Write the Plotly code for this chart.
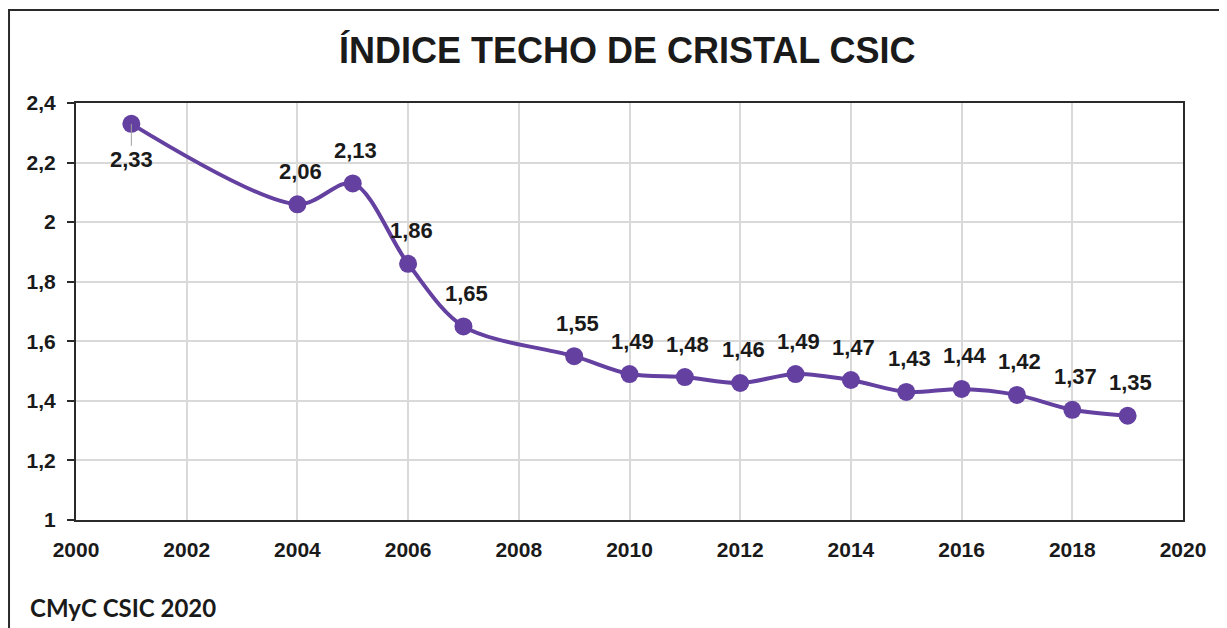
import plotly.graph_objects as go

years = [2001, 2004, 2005, 2006, 2007, 2009, 2010, 2011, 2012, 2013, 2014, 2015, 2016, 2017, 2018, 2019]
values = [2.33, 2.06, 2.13, 1.86, 1.65, 1.55, 1.49, 1.48, 1.46, 1.49, 1.47, 1.43, 1.44, 1.42, 1.37, 1.35]
labels = [f"{v:.2f}".replace(".", ",") for v in values]
title_text = "ÍNDICE TECHO DE CRISTAL CSIC"
source_text = "CMyC CSIC 2020"

color = "#6440A0"
fig = go.Figure()
fig.add_trace(go.Scatter(
    x=years, y=values, mode="lines+markers",
    line=dict(color=color, width=4, shape="spline", smoothing=0.9),
    marker=dict(color=color, size=18),
    hoverinfo="x+y", showlegend=False,
))

for i, (x, y, t) in enumerate(zip(years, values, labels)):
    if i == 0:
        fig.add_annotation(x=x, y=y, text=f"<b>{t}</b>", showarrow=True, arrowhead=0,
                           arrowcolor="#a0a0a0", arrowwidth=1, ax=0, ay=36, standoff=0,
                           font=dict(family="Liberation Sans, Arial", size=22, color="#1a1a1a"))
    else:
        fig.add_annotation(x=x, y=y, text=f"<b>{t}</b>", showarrow=False, yshift=33, xshift=3,
                           font=dict(family="Liberation Sans, Arial", size=22, color="#1a1a1a"))

# outer frame
fig.add_shape(type="rect", xref="paper", yref="paper", x0=-0.0605, x1=1.2, y0=-0.6, y1=1.223,
              line=dict(color="#2a2a2a", width=2), fillcolor="rgba(0,0,0,0)", layer="below")

fig.add_annotation(xref="paper", yref="paper", x=-0.043, y=-0.209, xanchor="left", yanchor="middle",
                   text=f"<b>{source_text}</b>", showarrow=False,
                   font=dict(family="Lato, Open Sans, sans-serif", size=24, color="#1a1a1a"))

fig.update_layout(
    width=1219, height=620,
    margin=dict(l=68, r=44, t=95, b=108),
    paper_bgcolor="white", plot_bgcolor="white",
    separators=",.",
    title=dict(text=f"<b>{title_text}</b>", x=0.508, xanchor="center", y=0.932, yanchor="middle",
               font=dict(family="Liberation Sans, Arial", size=36, color="#1a1a1a")),
    xaxis=dict(range=[2000, 2020], dtick=2, tick0=2000, tickformat="d",
               showgrid=True, gridcolor="#d9d9d9", gridwidth=1.5,
               showline=True, linecolor="#2a2a2a", linewidth=2, mirror=True,
               ticks="", ticklen=0, ticklabelstandoff=10,
               tickfont=dict(family="Liberation Sans, Arial", size=21, color="#1a1a1a"),
               zeroline=False),
    yaxis=dict(range=[1, 2.4], dtick=0.2, tick0=1,
               showgrid=True, gridcolor="#d9d9d9", gridwidth=1.5,
               showline=True, linecolor="#2a2a2a", linewidth=2, mirror=True,
               ticks="outside", ticklen=7, tickcolor="#2a2a2a", tickwidth=1.5,
               ticklabelstandoff=7,
               tickfont=dict(family="Liberation Sans, Arial", size=21, color="#1a1a1a"),
               zeroline=False),
)
fig.update_xaxes(tickprefix="<b>", ticksuffix="</b>")
fig.update_yaxes(tickprefix="<b>", ticksuffix="</b>")

fig.write_html("out.html")
